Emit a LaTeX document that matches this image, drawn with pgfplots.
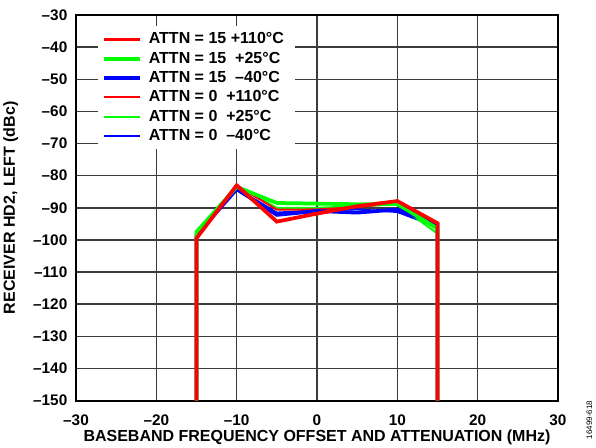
\documentclass[border=0pt]{standalone}
\usepackage{pgfplots}
\pgfplotsset{compat=1.18}
\usepackage{fontspec}
\setmainfont{Liberation Sans}
\definecolor{gridgray}{RGB}{60,60,60}
\definecolor{pblue}{RGB}{0,0,255}
\definecolor{pgreen}{RGB}{0,255,0}
\definecolor{pred}{RGB}{255,0,0}
\begin{document}
\begin{tikzpicture}
\begin{axis}[
  at={(0,0)}, anchor=south west,
  scale only axis,
  width=361.5pt, height=289.1pt,
  xmin=-30, xmax=30, ymin=-150, ymax=-30,
  xtick={-30,-20,-10,0,10,20,30},
  xticklabels={–30,–20,–10,0,10,20,30},
  ytick={-150,-140,-130,-120,-110,-100,-90,-80,-70,-60,-50,-40,-30},
  yticklabels={–150,–140,–130,–120,–110,–100,–90,–80,–70,–60,–50,–40,–30},
  major tick length=0pt,
  grid=major,
  major grid style={gridgray, line width=1.1pt},
  axis line style={black, line width=1.5pt},
  tick label style={font=\fontsize{11.5}{13}\selectfont\bfseries},
  xticklabel style={yshift=-7pt},
  yticklabel style={xshift=-3pt},
  label style={font=\fontsize{12}{14}\selectfont\bfseries},
  xlabel={BASEBAND FREQUENCY OFFSET AND ATTENUATION (MHz)},
  ylabel={RECEIVER HD2, LEFT (dBc)},
  xlabel style={at={(axis description cs:0.5,0)}, anchor=center, yshift=-27.75pt},
  ylabel style={at={(axis description cs:0,0.5)}, anchor=center, yshift=49pt},
  legend style={at={(axis description cs:0.046,0.972)}, anchor=north west, draw=none, fill=white,
    font=\fontsize{12}{14}\selectfont\bfseries, row sep=0.6pt, inner sep=3pt},
  legend cell align=left,
  legend image code/.code={\draw[#1] (0pt,0pt) -- (27pt,0pt);},
  legend style={nodes={inner xsep=5pt}},
  clip=false,
]
% thin lines (ATTN = 0)
\addplot[draw=pblue, line width=1.5pt, forget plot] coordinates {(-15,-150) (-15,-98.8) (-10,-84) (-5,-91.5) (0,-90.8) (5,-90.5) (10,-91.3) (15,-96) (15,-150)};
\addplot[draw=pgreen, line width=1.5pt, forget plot] coordinates {(-15,-150) (-15,-98) (-10,-83.3) (-5,-90) (0,-90) (5,-89.5) (10,-89) (15,-98) (15,-150)};
\addplot[draw=pred, line width=1.5pt, forget plot] coordinates {(-15,-150) (-15,-99) (-10,-83) (-5,-90.6) (0,-90.5) (5,-89.8) (10,-88.5) (15,-95) (15,-150)};
% thick lines (ATTN = 15)
\addplot[draw=pblue, line width=2.8pt, forget plot] coordinates {(-15,-150) (-15,-98.5) (-10,-84.2) (-5,-92.2) (0,-91) (5,-91.5) (10,-90.5) (15,-95) (15,-150)};
\addplot[draw=pgreen, line width=2.8pt, forget plot] coordinates {(-15,-150) (-15,-97.5) (-10,-83.5) (-5,-88.5) (0,-88.7) (5,-88.9) (10,-88.8) (15,-96.5) (15,-150)};
\addplot[draw=pred, line width=2.8pt, forget plot] coordinates {(-15,-150) (-15,-99.5) (-10,-83) (-5,-94.3) (0,-91.8) (5,-89.5) (10,-87.9) (15,-94.8) (15,-150)};
\addlegendimage{draw=pred, line width=2.8pt}
\addlegendentry{ATTN = 15 +110°C}
\addlegendimage{draw=pgreen, line width=2.8pt}
\addlegendentry{ATTN = 15\ \ +25°C}
\addlegendimage{draw=pblue, line width=2.8pt}
\addlegendentry{ATTN = 15\ \ –40°C}
\addlegendimage{draw=pred, line width=1.5pt}
\addlegendentry{ATTN = 0\ \ +110°C}
\addlegendimage{draw=pgreen, line width=1.5pt}
\addlegendentry{ATTN = 0\ \ +25°C}
\addlegendimage{draw=pblue, line width=1.5pt}
\addlegendentry{ATTN = 0\ \ –40°C}
\end{axis}
\node[rotate=90, font=\fontsize{6}{7}\selectfont, anchor=center] at (385pt,-14.6pt) {16499-618};
\pgfresetboundingbox
\path[use as bounding box] (-57pt,-34.9pt) rectangle (390pt,300.4pt);
\end{tikzpicture}
\end{document}
